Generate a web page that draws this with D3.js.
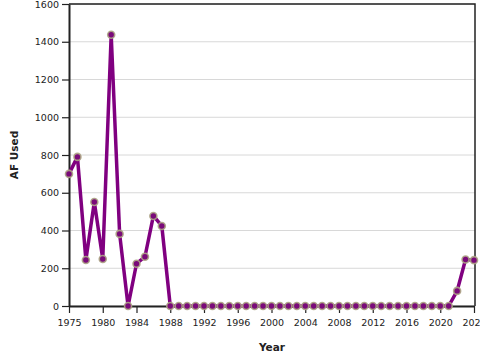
<!DOCTYPE html>
<html>
<head>
<meta charset="utf-8">
<script src="https://cdn.jsdelivr.net/npm/d3@7"></script>
<style>
  body { margin: 0; background: white; }
  text { font-family: "DejaVu Sans", sans-serif; }
</style>
</head>
<body>
<svg id="chart" width="480" height="360"></svg>
<script>
// data
var years = [1975, 1977, 1978, 1979, 1980, 1981, 1982, 1983, 1984, 1985, 1986, 1987,
  1988, 1989, 1990, 1991, 1992, 1993, 1994, 1995, 1996, 1997, 1998, 1999, 2000,
  2001, 2002, 2003, 2004, 2005, 2006, 2007, 2008, 2009, 2010, 2011, 2012, 2013,
  2014, 2015, 2016, 2017, 2018, 2019, 2020, 2021, 2022, 2023, 2024];
var afUsed = [700, 790, 244, 551, 249, 1437, 382, 0, 224, 261, 477, 424,
  0, 0, 0, 0, 0, 0, 0, 0, 0, 0, 0, 0, 0,
  0, 0, 0, 0, 0, 0, 0, 0, 0, 0, 0, 0, 0,
  0, 0, 0, 0, 0, 0, 0, 0, 80, 246, 243];
var xTicks = [1975, 1980, 1984, 1988, 1992, 1996, 2000, 2004, 2008, 2012, 2016, 2020, 2024];
var yTicks = [0, 200, 400, 600, 800, 1000, 1200, 1400, 1600];

var data = years.map(function(yr, i) { return { year: yr, v: afUsed[i] }; });

var svg = d3.select("#chart");
var mLeft = 69, mRight = 474, mTop = 4, mBottom = 306;

var x = d3.scalePoint().domain(years).range([mLeft, mRight]);
var y = d3.scaleLinear().domain([0, 1600]).range([mBottom, mTop]);

// gridlines
svg.append("g")
  .selectAll("line")
  .data(yTicks)
  .enter().append("line")
  .attr("x1", mLeft).attr("x2", mRight + 1)
  .attr("y1", function(d) { return y(d); })
  .attr("y2", function(d) { return y(d); })
  .attr("stroke", "#d8d8d8")
  .attr("stroke-width", 1);

// frame (top + right)
svg.append("path")
  .attr("d", "M" + mLeft + "," + mTop + "H" + (mRight + 1) + "V" + mBottom)
  .attr("fill", "none")
  .attr("stroke", "#222")
  .attr("stroke-width", 1.5);

var xAxis = svg.append("g")
  .attr("transform", "translate(0," + mBottom + ")")
  .call(d3.axisBottom(x).tickValues(xTicks).tickSize(7).tickSizeOuter(0).tickPadding(6));
var yAxis = svg.append("g")
  .attr("transform", "translate(" + mLeft + ",0)")
  .call(d3.axisLeft(y).tickValues(yTicks).tickFormat(d3.format("d"))
    .tickSize(7).tickSizeOuter(0).tickPadding(3));

[xAxis, yAxis].forEach(function(a) {
  a.select(".domain").attr("stroke", "#222").attr("stroke-width", 2);
  a.selectAll(".tick line").attr("stroke", "#222").attr("stroke-width", 1.2);
  a.selectAll(".tick text").attr("fill", "#222").style("font-size", "9.5px")
    .style("font-family", "DejaVu Sans, sans-serif");
});

// line
var line = d3.line()
  .x(function(d) { return x(d.year); })
  .y(function(d) { return y(d.v); });

svg.append("path")
  .datum(data)
  .attr("d", line)
  .attr("fill", "none")
  .attr("stroke", "#800080")
  .attr("stroke-width", 3.5)
  .attr("stroke-linejoin", "round");

// markers
svg.append("g")
  .selectAll("circle")
  .data(data)
  .enter().append("circle")
  .attr("cx", function(d) { return x(d.year); })
  .attr("cy", function(d) { return y(d.v); })
  .attr("r", 3.5)
  .attr("fill", "#7a0a7a")
  .attr("stroke", "#ada585")
  .attr("stroke-opacity", 0.9)
  .attr("stroke-width", 1.6);

// axis titles
svg.append("text")
  .attr("x", 272).attr("y", 351)
  .attr("text-anchor", "middle")
  .style("font-size", "10.5px").style("font-weight", "bold").attr("fill", "#222")
  .text("Year");

svg.append("text")
  .attr("transform", "translate(18,155)rotate(-90)")
  .attr("text-anchor", "middle")
  .style("font-size", "10.5px").style("font-weight", "bold").attr("fill", "#222")
  .text("AF Used");
</script>
</body>
</html>
